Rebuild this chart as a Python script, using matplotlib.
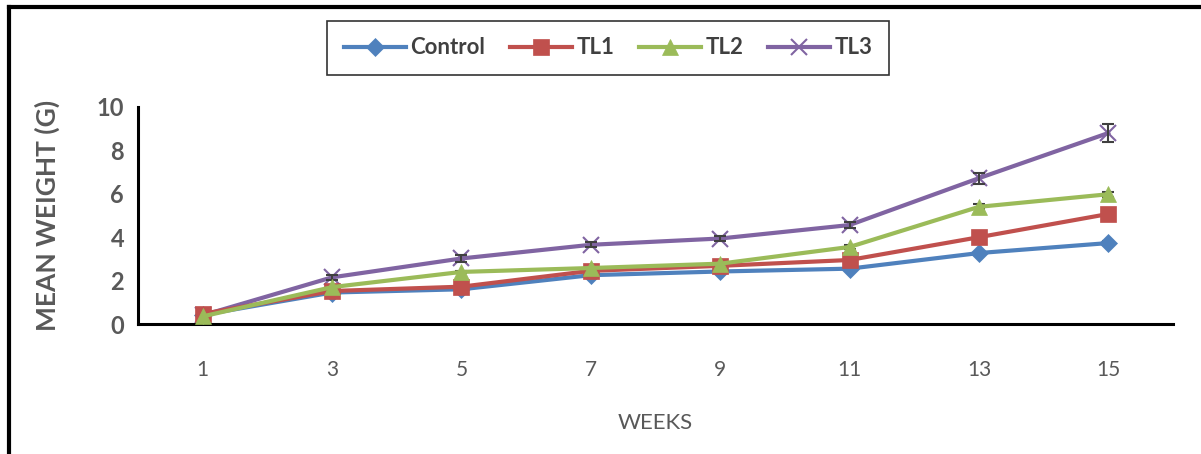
import numpy as np
import matplotlib.pyplot as plt
from matplotlib.lines import Line2D

plt.rcParams['font.family'] = ['Lato', 'DejaVu Sans']

weeks = ['1', '3', '5', '7', '9', '11', '13', '15']
control = [0.42, 1.45, 1.6, 2.25, 2.42, 2.55, 3.27, 3.73]
tl1 = [0.47, 1.52, 1.72, 2.45, 2.68, 2.95, 4.0, 5.07]
tl2 = [0.35, 1.7, 2.4, 2.58, 2.78, 3.55, 5.4, 5.98]
tl3 = [0.4, 2.15, 3.02, 3.65, 3.94, 4.56, 6.72, 8.8]
err_control = [0.03, 0.05, 0.05, 0.05, 0.05, 0.05, 0.06, 0.08]
err_tl1 = [0.03, 0.05, 0.06, 0.06, 0.06, 0.07, 0.08, 0.1]
err_tl2 = [0.03, 0.05, 0.06, 0.06, 0.06, 0.1, 0.12, 0.12]
err_tl3 = [0.05, 0.12, 0.15, 0.12, 0.12, 0.15, 0.25, 0.42]

series = [
    ('Control', control, err_control, '#4F81BD', 'D', 9),
    ('TL1', tl1, err_tl1, '#C0504D', 's', 11),
    ('TL2', tl2, err_tl2, '#9BBB59', '^', 12),
    ('TL3', tl3, err_tl3, '#8064A2', 'x', 11),
]

fig = plt.figure(figsize=(12.01, 4.54), dpi=100)
ax = fig.add_axes([138 / 1201, 1 - 324 / 454, 1035 / 1201, 217 / 454])

x = np.arange(len(weeks))
handles = []
for name, vals, err, col, mk, ms in series:
    ax.errorbar(x, vals, yerr=err, fmt='none', ecolor='#404040', elinewidth=1.5,
                capsize=4, capthick=1.5, zorder=3)
    h, = ax.plot(x, vals, color=col, lw=3, marker=mk, markersize=ms,
                 markeredgewidth=1.5 if mk == 'x' else 0.5, markeredgecolor=col,
                 label=name, zorder=4 if mk != 'x' else 2)
    handles.append(h)

ax.set_xlim(-0.5, len(weeks) - 0.5)
ax.set_ylim(0, 10)
ax.set_yticks(range(0, 11, 2))
ax.set_xticks(x)
ax.set_xticklabels(weeks)
ax.tick_params(axis='both', length=0, colors='#595959')
ax.tick_params(axis='y', pad=10, labelsize=17)
ax.tick_params(axis='x', pad=26, labelsize=15)
for t in ax.get_yticklabels():
    t.set_fontweight('bold')
for s in ['top', 'right']:
    ax.spines[s].set_visible(False)
for s in ['left', 'bottom']:
    ax.spines[s].set_linewidth(2.2)
    ax.spines[s].set_color('black')

ax.set_xlabel('WEEKS', fontsize=16, color='#595959', labelpad=24)
ax.set_ylabel('MEAN WEIGHT (G)', fontsize=19, fontweight='bold', color='#595959', labelpad=26)

leg = fig.legend(handles=handles, loc='center', bbox_to_anchor=(608 / 1201, 1 - 48 / 454),
                 ncol=4, frameon=True, fancybox=False, fontsize=16, handlelength=2.8,
                 columnspacing=1.1, handletextpad=0.2, borderpad=0.75)
leg.get_frame().set_edgecolor('black')
leg.get_frame().set_linewidth(1.2)
for t in leg.get_texts():
    t.set_fontweight('bold')
    t.set_color('#404040')

# outer frame (left and top only)
fig.add_artist(Line2D([9 / 1201, 9 / 1201], [0, 1 - 7 / 454], color='black', lw=3,
                      transform=fig.transFigure))
fig.add_artist(Line2D([9 / 1201, 1], [1 - 7 / 454, 1 - 7 / 454], color='black', lw=3,
                      transform=fig.transFigure))

fig.savefig('out.png', dpi=100)
